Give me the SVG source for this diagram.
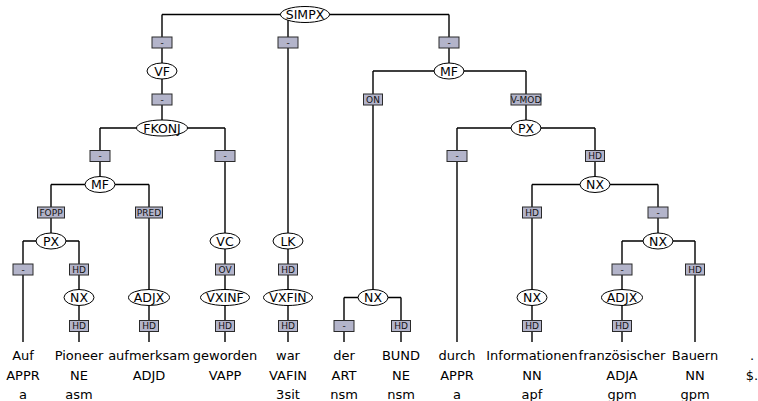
<svg xmlns="http://www.w3.org/2000/svg" width="758" height="401" viewBox="0 0 758 401">
<style>
.e{stroke:#000;stroke-width:1.4;fill:none}
.n ellipse{fill:#fff;stroke:#000;stroke-width:1}
.n text{font-family:"DejaVu Sans",Verdana,sans-serif;font-size:12.5px;text-anchor:middle;fill:#000}
.l rect{fill:#b3b4ca;stroke:#2a2a2a;stroke-width:1}
.l text{font-family:"DejaVu Sans",Verdana,sans-serif;font-size:9px;text-anchor:middle;fill:#111}
.w text{font-family:"DejaVu Sans",Verdana,sans-serif;font-size:13px;text-anchor:middle;fill:#000}
</style>
<g id="connectors">
<path class="e" d="M162 14.5H449M162 14.5V71M288 14.5V241M449 14.5V71"/>
<path class="e" d="M162 71V128"/>
<path class="e" d="M100 128H225M100 128V184.5M225 128V241"/>
<path class="e" d="M51 184.5H149M51 184.5V241M149 184.5V297.5"/>
<path class="e" d="M23 241H79M23 241V342M79 241V297.5"/>
<path class="e" d="M79 297.5V342M149 297.5V342"/>
<path class="e" d="M225 241V342M288 241V342"/>
<path class="e" d="M373 71H526M373 71V297.5M526 71V128"/>
<path class="e" d="M344 297.5H401M344 297.5V342M401 297.5V342"/>
<path class="e" d="M457 128H595M457 128V342M595 128V184.5"/>
<path class="e" d="M532 184.5H658M532 184.5V342M658 184.5V241"/>
<path class="e" d="M622 241H695M622 241V342M695 241V342"/>
</g>
<g id="edge-labels" class="l">
<rect x="152" y="37" width="20" height="11"/><text x="162" y="45.8">-</text>
<rect x="278" y="37" width="20" height="11"/><text x="288" y="45.8">-</text>
<rect x="439" y="37" width="20" height="11"/><text x="449" y="45.8">-</text>
<rect x="152" y="94" width="20" height="11"/><text x="162" y="102.8">-</text>
<rect x="363.5" y="94" width="19" height="11"/><text x="373" y="102.8">ON</text>
<rect x="511" y="94" width="30" height="11"/><text x="526" y="102.8">V-MOD</text>
<rect x="90" y="150.5" width="20" height="11"/><text x="100" y="159.3">-</text>
<rect x="215" y="150.5" width="20" height="11"/><text x="225" y="159.3">-</text>
<rect x="447" y="150.5" width="20" height="11"/><text x="457" y="159.3">-</text>
<rect x="585.5" y="150.5" width="19" height="11"/><text x="595" y="159.3">HD</text>
<rect x="37.5" y="207" width="27" height="11"/><text x="51" y="215.8">FOPP</text>
<rect x="135.5" y="207" width="27" height="11"/><text x="149" y="215.8">PRED</text>
<rect x="522.5" y="207" width="19" height="11"/><text x="532" y="215.8">HD</text>
<rect x="648" y="207" width="20" height="11"/><text x="658" y="215.8">-</text>
<rect x="13" y="264" width="20" height="11"/><text x="23" y="272.8">-</text>
<rect x="69.5" y="264" width="19" height="11"/><text x="79" y="272.8">HD</text>
<rect x="215.5" y="264" width="19" height="11"/><text x="225" y="272.8">OV</text>
<rect x="278.5" y="264" width="19" height="11"/><text x="288" y="272.8">HD</text>
<rect x="612" y="264" width="20" height="11"/><text x="622" y="272.8">-</text>
<rect x="685.5" y="264" width="19" height="11"/><text x="695" y="272.8">HD</text>
<rect x="69.5" y="320.5" width="19" height="11"/><text x="79" y="329.3">HD</text>
<rect x="139.5" y="320.5" width="19" height="11"/><text x="149" y="329.3">HD</text>
<rect x="215.5" y="320.5" width="19" height="11"/><text x="225" y="329.3">HD</text>
<rect x="278.5" y="320.5" width="19" height="11"/><text x="288" y="329.3">HD</text>
<rect x="334" y="320.5" width="20" height="11"/><text x="344" y="329.3">-</text>
<rect x="391.5" y="320.5" width="19" height="11"/><text x="401" y="329.3">HD</text>
<rect x="522.5" y="320.5" width="19" height="11"/><text x="532" y="329.3">HD</text>
<rect x="612.5" y="320.5" width="19" height="11"/><text x="622" y="329.3">HD</text>
</g>
<g id="n-simpx" class="n"><ellipse cx="305" cy="14.5" rx="24.5" ry="8"/><text x="305" y="19">SIMPX</text></g>
<g id="n-vf" class="n"><ellipse cx="162" cy="71" rx="15" ry="8"/><text x="162" y="75.5">VF</text></g>
<g id="n-mf1" class="n"><ellipse cx="449" cy="71" rx="15" ry="8"/><text x="449" y="75.5">MF</text></g>
<g id="n-fkonj" class="n"><ellipse cx="162" cy="128" rx="25.5" ry="8"/><text x="162" y="132.5">FKONJ</text></g>
<g id="n-px1" class="n"><ellipse cx="526" cy="128" rx="15" ry="8"/><text x="526" y="132.5">PX</text></g>
<g id="n-mf2" class="n"><ellipse cx="100" cy="184.5" rx="15" ry="8"/><text x="100" y="189">MF</text></g>
<g id="n-nx1" class="n"><ellipse cx="595" cy="184.5" rx="15" ry="8"/><text x="595" y="189">NX</text></g>
<g id="n-px2" class="n"><ellipse cx="51" cy="241" rx="15" ry="8"/><text x="51" y="245.5">PX</text></g>
<g id="n-vc" class="n"><ellipse cx="225" cy="241" rx="15" ry="8"/><text x="225" y="245.5">VC</text></g>
<g id="n-lk" class="n"><ellipse cx="288" cy="241" rx="15" ry="8"/><text x="288" y="245.5">LK</text></g>
<g id="n-nx2" class="n"><ellipse cx="658" cy="241" rx="15" ry="8"/><text x="658" y="245.5">NX</text></g>
<g id="n-nx3" class="n"><ellipse cx="79" cy="297.5" rx="15" ry="8"/><text x="79" y="302">NX</text></g>
<g id="n-adjx1" class="n"><ellipse cx="149" cy="297.5" rx="20.5" ry="8"/><text x="149" y="302">ADJX</text></g>
<g id="n-vxinf" class="n"><ellipse cx="225" cy="297.5" rx="24.5" ry="8"/><text x="225" y="302">VXINF</text></g>
<g id="n-vxfin" class="n"><ellipse cx="288" cy="297.5" rx="24.5" ry="8"/><text x="288" y="302">VXFIN</text></g>
<g id="n-nx4" class="n"><ellipse cx="373" cy="297.5" rx="15" ry="8"/><text x="373" y="302">NX</text></g>
<g id="n-nx5" class="n"><ellipse cx="532" cy="297.5" rx="15" ry="8"/><text x="532" y="302">NX</text></g>
<g id="n-adjx2" class="n"><ellipse cx="622" cy="297.5" rx="20.5" ry="8"/><text x="622" y="302">ADJX</text></g>
<g id="w-auf" class="w"><text x="23" y="359.8">Auf</text><text x="23" y="379.5">APPR</text><text x="23" y="398.5">a</text></g>
<g id="w-pioneer" class="w"><text x="79" y="359.8">Pioneer</text><text x="79" y="379.5">NE</text><text x="79" y="398.5">asm</text></g>
<g id="w-aufmerksam" class="w"><text x="149" y="359.8">aufmerksam</text><text x="149" y="379.5">ADJD</text></g>
<g id="w-geworden" class="w"><text x="225" y="359.8">geworden</text><text x="225" y="379.5">VAPP</text></g>
<g id="w-war" class="w"><text x="288" y="359.8">war</text><text x="288" y="379.5">VAFIN</text><text x="288" y="398.5">3sit</text></g>
<g id="w-der" class="w"><text x="344" y="359.8">der</text><text x="344" y="379.5">ART</text><text x="344" y="398.5">nsm</text></g>
<g id="w-bund" class="w"><text x="401" y="359.8">BUND</text><text x="401" y="379.5">NE</text><text x="401" y="398.5">nsm</text></g>
<g id="w-durch" class="w"><text x="457" y="359.8">durch</text><text x="457" y="379.5">APPR</text><text x="457" y="398.5">a</text></g>
<g id="w-informationen" class="w"><text x="532" y="359.8">Informationen</text><text x="532" y="379.5">NN</text><text x="532" y="398.5">apf</text></g>
<g id="w-franzoesischer" class="w"><text x="622" y="359.8">französischer</text><text x="622" y="379.5">ADJA</text><text x="622" y="398.5">gpm</text></g>
<g id="w-bauern" class="w"><text x="695" y="359.8">Bauern</text><text x="695" y="379.5">NN</text><text x="695" y="398.5">gpm</text></g>
<g id="w-punct" class="w"><text x="752" y="359.8">.</text><text x="752" y="379.5">$.</text></g>
</svg>
